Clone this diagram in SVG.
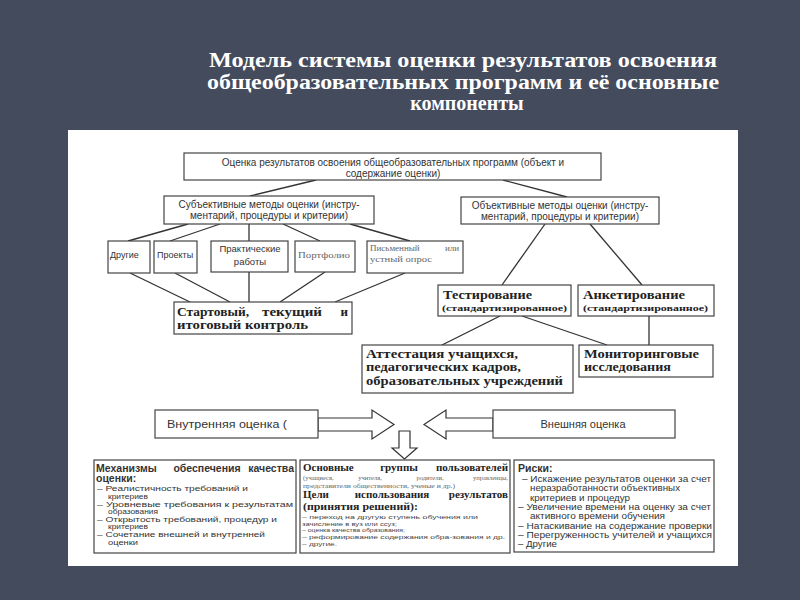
<svg xmlns="http://www.w3.org/2000/svg" width="800" height="600" viewBox="0 0 800 600">
<style>
.box{fill:#fff;stroke:#444;stroke-width:1.2}
.ln{stroke:#333;stroke-width:1.3;fill:none}
.arr{fill:#fff;stroke:#333;stroke-width:1.2}
.s{font-family:"Liberation Sans",Arial,sans-serif;fill:#333}
.r{font-family:"Liberation Serif","Times New Roman",serif;fill:#222}
.b{font-weight:bold}
.g{fill:#666}
.t{font-family:"Liberation Serif","Times New Roman",serif;font-weight:bold;fill:#fff;font-size:20px}
</style>
<rect width="800" height="600" fill="#444b5d"/>
<g id="title" text-anchor="middle">
<text class="t" x="463" y="67" textLength="508" lengthAdjust="spacingAndGlyphs">Модель системы оценки результатов освоения</text>
<text class="t" x="463" y="89" textLength="512" lengthAdjust="spacingAndGlyphs">общеобразовательных программ и её основные</text>
<text class="t" x="467" y="110">компоненты</text>
</g>
<rect x="68" y="130" width="670" height="436" fill="#fff"/>
<g id="connectors">
<line class="ln" x1="316" y1="180" x2="250" y2="196"/>
<line class="ln" x1="503" y1="180" x2="567" y2="197"/>
<line class="ln" x1="188" y1="224" x2="128" y2="241"/>
<line class="ln" x1="220" y1="224" x2="170" y2="241"/>
<line class="ln" x1="249" y1="224" x2="249" y2="241"/>
<line class="ln" x1="283" y1="224" x2="320" y2="241"/>
<line class="ln" x1="350" y1="224" x2="410" y2="241"/>
<line class="ln" x1="130" y1="273" x2="190" y2="302"/>
<line class="ln" x1="175" y1="273" x2="230" y2="302"/>
<line class="ln" x1="249" y1="272" x2="249" y2="302"/>
<line class="ln" x1="325" y1="272" x2="280" y2="302"/>
<line class="ln" x1="405" y1="273" x2="335" y2="302"/>
<line class="ln" x1="545" y1="224" x2="502" y2="285"/>
<line class="ln" x1="590" y1="224" x2="642" y2="285"/>
<line class="ln" x1="500" y1="316" x2="442" y2="345"/>
<line class="ln" x1="522" y1="316" x2="607" y2="345"/>
<line class="ln" x1="649" y1="316" x2="649" y2="345"/>
<polygon class="arr" points="318,418 372,418 372,410 394,424.5 372,439 372,431 318,431"/>
<polygon class="arr" points="493,418 446,418 446,410 424,424.5 446,439 446,431 493,431"/>
<polygon class="arr" points="399,431 410,431 410,448 417,448 404.5,459 392,448 399,448"/>
</g>
<g id="n-top">
<rect class="box" x="184" y="153" width="417" height="27"/>
<text class="s" font-size="10" text-anchor="middle" x="393" y="166">Оценка результатов освоения общеобразовательных программ (объект и</text>
<text class="s" font-size="10" text-anchor="middle" x="393" y="177">содержание оценки)</text>
</g>
<g id="n-subj">
<rect class="box" x="164" y="196" width="210" height="28"/>
<text class="s" font-size="10" text-anchor="middle" x="269" y="208">Субъективные методы оценки (инстру-</text>
<text class="s" font-size="10" text-anchor="middle" x="269" y="219">ментарий, процедуры и критерии)</text>
</g>
<g id="n-obj">
<rect class="box" x="461" y="197" width="198" height="27"/>
<text class="s" font-size="10" text-anchor="middle" x="560" y="209">Объективные методы оценки (инстру-</text>
<text class="s" font-size="10" text-anchor="middle" x="560" y="220">ментарий, процедуры и критерии)</text>
</g>
<g id="n-other">
<rect class="box" x="108" y="241" width="42" height="32"/>
<text class="s" font-size="9" x="110" y="258">Другие</text>
</g>
<g id="n-projects">
<rect class="box" x="154" y="241" width="43" height="32"/>
<text class="s" font-size="9" x="157" y="258">Проекты</text>
</g>
<g id="n-practical">
<rect class="box" x="211" y="241" width="77" height="31"/>
<text class="s" font-size="9.5" text-anchor="middle" x="250" y="252">Практические</text>
<text class="s" font-size="9.5" text-anchor="middle" x="250" y="265">работы</text>
</g>
<g id="n-portfolio">
<rect class="box" x="295" y="241" width="60" height="31"/>
<text class="r g" font-size="9" x="298" y="258" textLength="52" lengthAdjust="spacingAndGlyphs">Портфолио</text>
</g>
<g id="n-written">
<rect class="box" x="367" y="241" width="96" height="32"/>
<text class="r g" font-size="9" x="370" y="251">Письменный</text>
<text class="r g" font-size="9" x="459" y="251" text-anchor="end">или</text>
<text class="r g" font-size="9" x="370" y="262" textLength="62" lengthAdjust="spacingAndGlyphs">устный опрос</text>
</g>
<g id="n-control">
<rect class="box" x="174" y="302" width="178" height="32"/>
<text class="r b" font-size="13" x="177" y="316" textLength="72" lengthAdjust="spacingAndGlyphs">Стартовый,</text>
<text class="r b" font-size="13" x="292" y="316" text-anchor="middle" textLength="60" lengthAdjust="spacingAndGlyphs">текущий</text>
<text class="r b" font-size="13" x="348" y="316" text-anchor="end">и</text>
<text class="r b" font-size="13" x="177" y="329" textLength="131" lengthAdjust="spacingAndGlyphs">итоговый контроль</text>
</g>
<g id="n-testing">
<rect class="box" x="438" y="285" width="133" height="31"/>
<text class="r b" font-size="12.5" x="443" y="299" textLength="89" lengthAdjust="spacingAndGlyphs">Тестирование</text>
<text class="r b" font-size="9" x="442" y="311" textLength="125" lengthAdjust="spacingAndGlyphs">(стандартизированное)</text>
</g>
<g id="n-survey">
<rect class="box" x="578" y="285" width="136" height="31"/>
<text class="r b" font-size="12.5" x="583" y="299" textLength="102" lengthAdjust="spacingAndGlyphs">Анкетирование</text>
<text class="r b" font-size="9" x="583" y="311" textLength="125" lengthAdjust="spacingAndGlyphs">(стандартизированное)</text>
</g>
<g id="n-attest">
<rect class="box" x="362" y="345" width="211" height="48"/>
<text class="r b" font-size="12.5" x="366" y="358" textLength="152" lengthAdjust="spacingAndGlyphs">Аттестация учащихся,</text>
<text class="r b" font-size="12.5" x="366" y="371" textLength="155" lengthAdjust="spacingAndGlyphs">педагогических кадров,</text>
<text class="r b" font-size="12.5" x="366" y="385" textLength="197" lengthAdjust="spacingAndGlyphs">образовательных учреждений</text>
</g>
<g id="n-monitor">
<rect class="box" x="579" y="345" width="134" height="32"/>
<text class="r b" font-size="12.5" x="584" y="358" textLength="115" lengthAdjust="spacingAndGlyphs">Мониторинговые</text>
<text class="r b" font-size="12.5" x="584" y="371" textLength="87" lengthAdjust="spacingAndGlyphs">исследования</text>
</g>
<g id="n-internal">
<rect class="box" x="155" y="410" width="163" height="28"/>
<text class="s" font-size="11" x="167" y="428" textLength="120" lengthAdjust="spacingAndGlyphs">Внутренняя оценка (</text>
</g>
<g id="n-external">
<rect class="box" x="493" y="410" width="182" height="28"/>
<text class="s" font-size="11" text-anchor="middle" x="583" y="428">Внешняя оценка</text>
</g>
<g id="n-mechanisms">
<rect class="box" x="94" y="460" width="202" height="93"/>
<text class="s b" font-size="10.5" x="96" y="472">Механизмы</text>
<text class="s b" font-size="10.5" x="207" y="472" text-anchor="middle">обеспечения</text>
<text class="s b" font-size="10.5" x="294" y="472" text-anchor="end">качества</text>
<text class="s b" font-size="10.5" x="96" y="482">оценки:</text>
<g class="s" font-size="7.5">
<text x="97" y="491" textLength="151" lengthAdjust="spacingAndGlyphs">– Реалистичность требований и</text>
<text x="108" y="499" textLength="40" lengthAdjust="spacingAndGlyphs">критериев</text>
<text x="97" y="507" textLength="196" lengthAdjust="spacingAndGlyphs">– Уровневые требования к результатам</text>
<text x="108" y="514" textLength="50" lengthAdjust="spacingAndGlyphs">образования</text>
<text x="97" y="522" textLength="180" lengthAdjust="spacingAndGlyphs">– Открытость требований, процедур и</text>
<text x="108" y="529" textLength="40" lengthAdjust="spacingAndGlyphs">критериев</text>
<text x="97" y="537" textLength="168" lengthAdjust="spacingAndGlyphs">– Сочетание внешней и внутренней</text>
<text x="108" y="545" textLength="30" lengthAdjust="spacingAndGlyphs">оценки</text>
</g>
</g>
<g id="n-users">
<rect class="box" x="300" y="460" width="210" height="93"/>
<text class="r b" font-size="11" x="303" y="471">Основные</text>
<text class="r b" font-size="11" x="399" y="471" text-anchor="middle">группы</text>
<text class="r b" font-size="11" x="508" y="471" text-anchor="end">пользователей</text>
<g class="r g" font-size="6.5">
<text x="303" y="480">(учащиеся,</text>
<text x="370" y="480" text-anchor="middle">учителя,</text>
<text x="430" y="480" text-anchor="middle">родители,</text>
<text x="508" y="480" text-anchor="end">управленцы,</text>
<text x="303" y="487.5" textLength="152" lengthAdjust="spacingAndGlyphs">представители общественности, ученые и др.)</text>
</g>
<text class="r b" font-size="11" x="303" y="498">Цели</text>
<text class="r b" font-size="11" x="392" y="498" text-anchor="middle">использования</text>
<text class="r b" font-size="11" x="508" y="498" text-anchor="end">результатов</text>
<text class="r b" font-size="11" x="303" y="509.5" textLength="115" lengthAdjust="spacingAndGlyphs">(принятия решений):</text>
<g class="s" font-size="6" style="fill:#444">
<text x="302" y="519" textLength="176" lengthAdjust="spacingAndGlyphs">– переход на другую ступень обучения или</text>
<text x="302" y="525.5" textLength="95" lengthAdjust="spacingAndGlyphs">зачисление в вуз или ссуз;</text>
<text x="302" y="532" textLength="103" lengthAdjust="spacingAndGlyphs">– оценка качества образования;</text>
<text x="302" y="539" textLength="203" lengthAdjust="spacingAndGlyphs">– реформирование содержания обра-зования и др.</text>
<text x="302" y="546" textLength="35" lengthAdjust="spacingAndGlyphs">– другие.</text>
</g>
</g>
<g id="n-risks">
<rect class="box" x="514" y="460" width="200" height="92"/>
<text class="s b" font-size="10.5" x="518" y="472">Риски:</text>
<g class="s" font-size="8.5">
<text x="522" y="482" textLength="189" lengthAdjust="spacingAndGlyphs">– Искажение результатов оценки за счет</text>
<text x="530" y="491" textLength="150" lengthAdjust="spacingAndGlyphs">неразработанности объективных</text>
<text x="530" y="501" textLength="100" lengthAdjust="spacingAndGlyphs">критериев и процедур</text>
<text x="518" y="510" textLength="193" lengthAdjust="spacingAndGlyphs">– Увеличение времени на оценку за счет</text>
<text x="530" y="519" textLength="135" lengthAdjust="spacingAndGlyphs">активного времени обучения</text>
<text x="518" y="529" textLength="194" lengthAdjust="spacingAndGlyphs">– Натаскивание на содержание проверки</text>
<text x="518" y="538" textLength="194" lengthAdjust="spacingAndGlyphs">– Перегруженность учителей и учащихся</text>
<text x="518" y="547" textLength="39" lengthAdjust="spacingAndGlyphs">– Другие</text>
</g>
</g>
</svg>
